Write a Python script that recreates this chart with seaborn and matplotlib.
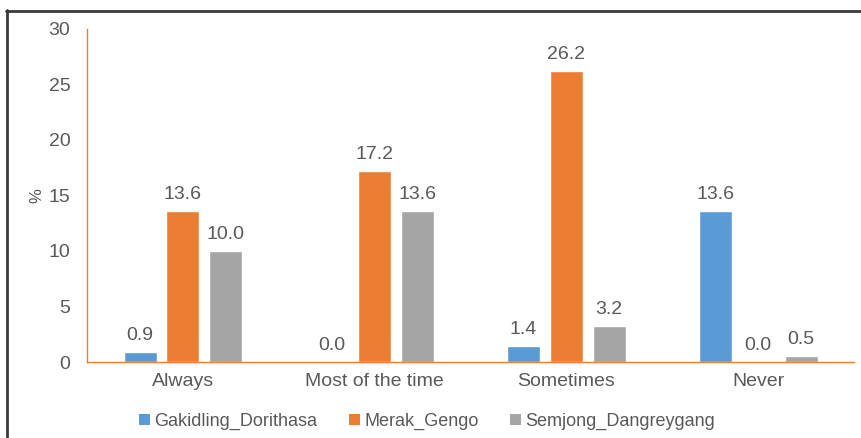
import matplotlib
matplotlib.use("Agg")
import matplotlib.pyplot as plt
from matplotlib.lines import Line2D
from matplotlib.patches import Patch
import seaborn as sns
import pandas as pd

categories = ["Always", "Most of the time", "Sometimes", "Never"]
series_names = ["Gakidling_Dorithasa", "Merak_Gengo", "Semjong_Dangreygang"]
gakidling = [0.9, 0.0, 1.4, 13.6]
merak = [13.6, 17.2, 26.2, 0.0]
semjong = [10.0, 13.6, 3.2, 0.5]
y_ticks = [0, 5, 10, 15, 20, 25, 30]

colors = ["#5B9BD5", "#ED7D31", "#A5A5A5"]
text_color = "#595959"

rows = []
for name, vals in zip(series_names, [gakidling, merak, semjong]):
    for cat, v in zip(categories, vals):
        rows.append({"category": cat, "series": name, "value": v})
df = pd.DataFrame(rows)

sns.set_theme(style="white")
plt.rcParams["font.family"] = ["Liberation Sans", "DejaVu Sans"]

fig = plt.figure(figsize=(8.61, 4.38), dpi=100)
ax = fig.add_axes([0.101, 0.1735, 0.891, 0.7605])

sns.barplot(data=df, x="category", y="value", hue="series", order=categories,
            hue_order=series_names, palette=colors, width=0.67, gap=0.23,
            saturation=1, ax=ax, legend=False, errorbar=None)

for cont in ax.containers:
    ax.bar_label(cont, fmt="%.1f", padding=6, fontsize=14, color=text_color)

ax.set_ylim(0, 30)
ax.set_xlim(-0.5, 3.5)
ax.set_yticks(y_ticks)
ax.tick_params(axis="both", length=0, labelsize=14, colors=text_color)
ax.tick_params(axis="y", pad=12)
ax.tick_params(axis="x", pad=8)
ax.set_xlabel("")
ax.set_ylabel("%", fontsize=12, color=text_color, labelpad=3)

for side in ["top", "right"]:
    ax.spines[side].set_visible(False)
for side in ["left", "bottom"]:
    ax.spines[side].set_color("#ED7D31")
    ax.spines[side].set_linewidth(1.0)

handles = [Patch(facecolor=c, edgecolor="none") for c in colors]
fig.legend(handles, series_names, loc="center", bbox_to_anchor=(0.496, 0.038),
           ncol=3, frameon=False, fontsize=13, handlelength=0.6, handleheight=0.6,
           handletextpad=0.25, columnspacing=1.75, labelcolor=text_color)

# outer frame lines along the top and left edges
fig.add_artist(Line2D([0.007, 1.0], [0.976, 0.976], color="#3a3a3a", lw=2,
                      transform=fig.transFigure))
fig.add_artist(Line2D([0.008, 0.008], [0.0, 0.977], color="#3a3a3a", lw=2,
                      transform=fig.transFigure))

fig.savefig("out.png", dpi=100)
